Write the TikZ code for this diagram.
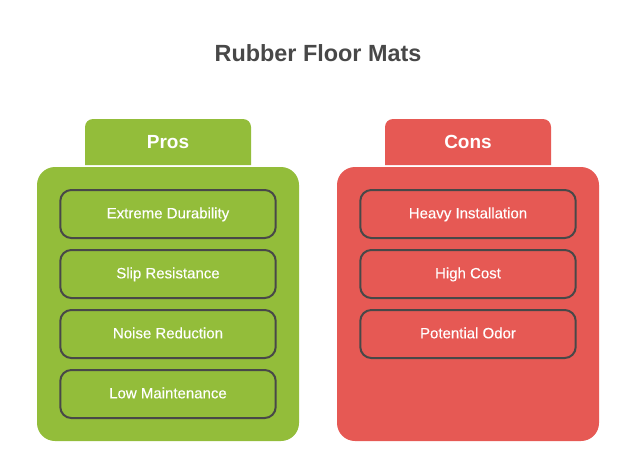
\documentclass[tikz,border=0pt]{standalone}
\usepackage{fontspec}
\setmainfont{Liberation Sans}
\newfontfamily\itemfont[FakeBold=0.25]{Liberation Sans}
\definecolor{prosgreen}{HTML}{93BD3A}
\definecolor{consred}{HTML}{E65954}
\definecolor{darkgrey}{HTML}{484848}
\begin{document}
\begin{tikzpicture}[x=1pt,y=-1pt,node distance=60pt,
    panel/.style={rounded corners=18pt,minimum width=262pt,minimum height=274pt,inner sep=0pt},
    tabtext/.style={text=white,text height=13.5pt,text depth=0pt,font=\bfseries\fontsize{19}{19}\selectfont},
    item/.style={draw=darkgrey,line width=2pt,rounded corners=11pt,text=white,text height=8.7pt,text depth=0pt,minimum width=215.4pt,minimum height=48pt,font=\itemfont\fontsize{15}{15}\selectfont}]
    \useasboundingbox (0,0) rectangle (636,474);
    \node[text=darkgrey,text height=16.5pt,text depth=0pt,font=\bfseries\fontsize{23.4}{23.4}\selectfont] (T) at (318,53) {Rubber Floor Mats};

    % pros
    \fill[prosgreen,rounded corners=8pt] (85,165) |- (251,119) [sharp corners] -- (251,165) -- cycle;
    \node[tabtext] (P) at (168,142) {Pros};
    \node[panel,fill=prosgreen] (PP) at (168,304) {};
    \node[item] (P1) at (168,214) {Extreme Durability};
    \node[item] (P2) [below of=P1] {Slip Resistance};
    \node[item] (P3) [below of=P2] {Noise Reduction};
    \node[item] (P4) [below of=P3] {Low Maintenance};

    % cons
    \fill[consred,rounded corners=8pt] (385,165) |- (551,119) [sharp corners] -- (551,165) -- cycle;
    \node[tabtext] (C) at (468,142) {Cons};
    \node[panel,fill=consred] (CP) at (468,304) {};
    \node[item] (C1) at (468,214) {Heavy Installation};
    \node[item] (C2) [below of=C1] {High Cost};
    \node[item] (C3) [below of=C2] {Potential Odor};
\end{tikzpicture}
\end{document}
